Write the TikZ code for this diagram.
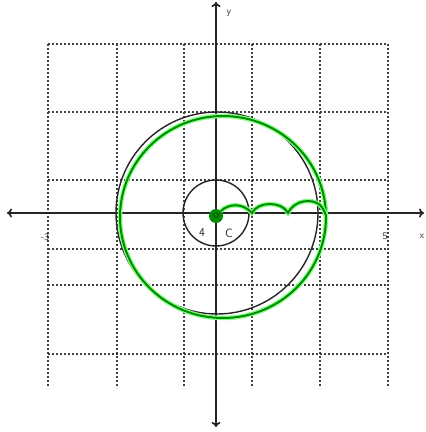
\documentclass[tikz,border=0pt]{standalone}
\usetikzlibrary{arrows.meta}
\begin{document}
\begin{tikzpicture}[x=1pt,y=-1pt,
 gridline/.style={black!75, line width=1.9pt, dash pattern=on 1.9pt off 2.1pt},
 axisline/.style={black!85, line width=1.7pt, {To[length=5pt,width=9pt]}-{To[length=5pt,width=9pt]}},
 blackcirc/.style={black!85, line width=1.4pt},
 greenline/.style={draw=green!55!black, line width=2pt, preaction={draw=green!50, line width=4.5pt}},
 lab/.style={font=\sffamily\normalsize, inner sep=0pt, text=black!85},
 biglab/.style={font=\sffamily\large, inner sep=0pt, text=black!85}]
\useasboundingbox (0,0) rectangle (426,432);
\fill[white] (0,0) rectangle (426,432);
% grid
\foreach \gx in {48,117,184,252,320,388}
  \draw[gridline] (\gx,44) -- (\gx,388);
\foreach \gy in {44,112,180,249,285,354}
  \draw[gridline] (48,\gy) -- (388,\gy);
% axes
\coordinate (xl) at (7,213);
\coordinate (xr) at (424,213);
\coordinate (yt) at (216,2);
\coordinate (yb) at (216,427);
\draw[axisline] (xl) -- (xr);
\draw[axisline] (yt) -- (yb);
% black circles
\coordinate (o) at (216,213);
\draw[blackcirc] (o) circle[radius=33pt];
\draw[blackcirc] (217,213) circle[radius=101pt];
% green drawing
\coordinate (gc) at (223,217);
\draw[greenline] (gc) ellipse[x radius=103pt, y radius=101pt];
\fill[green!55!black] (216,216) circle[radius=7pt];
\draw[green!30!black, line width=0.8pt] (216,215) circle[radius=2.5pt];
\draw[greenline] (221,211) .. controls (228,204) and (242,202) .. (252,213)
  .. controls (258,201) and (282,201) .. (288,213)
  .. controls (294,200) and (312,198) .. (320,205)
  .. controls (323,208) and (325,212) .. (326,216);
% labels
\node[lab] (lm3) at (45,237) {-3};
\node[lab] (l5) at (385,236) {5};
\node[lab] (lx) at (422,236) {x};
\node[lab] (ly) at (229,13) {y};
\node[biglab] (l4) at (202,233) {4};
\node[biglab] (lC) at (229,233) {C};
\end{tikzpicture}
\end{document}
